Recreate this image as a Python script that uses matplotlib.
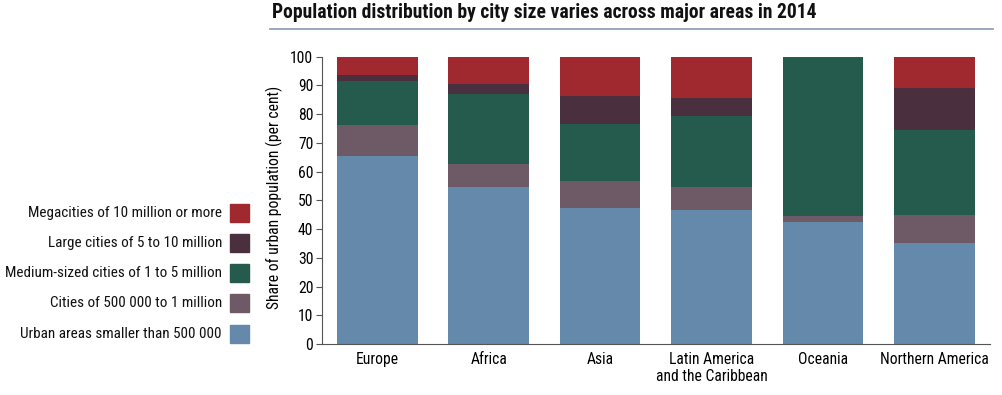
import matplotlib
matplotlib.use("Agg")
import matplotlib.pyplot as plt
import numpy as np
from matplotlib import font_manager as fm
from matplotlib.patches import Rectangle
from matplotlib.lines import Line2D

# ---- data ----
regions = ["Europe", "Africa", "Asia", "Latin America\nand the Caribbean", "Oceania", "Northern America"]
series_names = ["Urban areas smaller than 500 000",
                "Cities of 500 000 to 1 million",
                "Medium-sized cities of 1 to 5 million",
                "Large cities of 5 to 10 million",
                "Megacities of 10 million or more"]
small = [65.4, 54.8, 47.3, 46.6, 42.6, 35.2]
mid500 = [10.8, 7.8, 9.4, 8.2, 1.9, 9.8]
medium = [15.4, 24.5, 19.9, 24.6, 55.2, 29.6]
large = [2.1, 3.5, 9.7, 6.2, 0.0, 14.5]
mega = [6.3, 9.4, 13.7, 14.4, 0.3, 10.9]
yticks = list(range(0, 101, 10))
title = "Population distribution by city size varies across major areas in 2014"
ylabel = "Share of urban population (per cent)"
colors = ["#6589AA", "#6E5A66", "#255B4D", "#4A2F3E", "#A0292F"]

# ---- font choice: prefer a condensed humanist face ----
names = {f.name for f in fm.fontManager.ttflist}
stretch = 'normal'
fam = None
for cand in ['Liberation Sans Narrow', 'Roboto Condensed', 'Open Sans Condensed', 'Noto Sans Condensed']:
    if cand in names:
        fam = cand
        break
if fam is None:
    if any(f.name == 'DejaVu Sans' and str(f.stretch) in ('condensed', 'semi-condensed', '87.5', '75')
           for f in fm.fontManager.ttflist):
        fam, stretch = 'DejaVu Sans', 'condensed'
    elif any(f.name == 'Noto Sans' and str(f.stretch) in ('condensed', 'semi-condensed')
             for f in fm.fontManager.ttflist):
        fam, stretch = 'Noto Sans', 'condensed'
    else:
        fam = 'Roboto' if 'Roboto' in names else 'DejaVu Sans'
plt.rcParams['font.family'] = [fam, 'DejaVu Sans']
plt.rcParams['font.stretch'] = stretch

fig = plt.figure(figsize=(10.02, 3.95), dpi=100)
renderer = fig.canvas.get_renderer()


def fit_size(text, target_px, base=10, weight='normal'):
    t = fig.text(0, 0, text, fontsize=base, fontweight=weight, fontstretch=stretch)
    w = t.get_window_extent(renderer).width
    t.remove()
    return base * target_px / w


fs_title = fit_size(title, 545, 14, 'bold')
fs_leg = min(fit_size(series_names[2], 215), 11.5)
fs_tick = min(fit_size("Northern America", 108), 11.5)
fs_ylab = min(fit_size(ylabel, 222), 11.5)

ax = fig.add_axes([0.321, 0.129, 0.667, 0.7275])
x = np.arange(len(regions))
bottom = np.zeros(len(regions))
for vals, c in zip([small, mid500, medium, large, mega], colors):
    ax.bar(x, vals, bottom=bottom, width=0.725, color=c, edgecolor='none')
    bottom += np.array(vals)

ax.set_xlim(-0.5, 5.5)
ax.set_ylim(0, 100)
ax.set_yticks(yticks)
ax.set_xticks(x)
ax.set_xticklabels(regions, fontsize=fs_tick, linespacing=1.15)
ax.tick_params(axis='x', length=0, pad=6)
ax.tick_params(axis='y', length=4, width=0.8, direction='out', labelsize=fs_tick, pad=2, color='#555555')
for s in ['top', 'right']:
    ax.spines[s].set_visible(False)
ax.spines['left'].set_color('#555555')
ax.spines['bottom'].set_color('#555555')
ax.set_ylabel(ylabel, fontsize=fs_ylab, labelpad=2)
ax.yaxis.set_label_coords(-0.058, 0.51)

fig.text(0.2715, 1 - 13 / 395, title, fontsize=fs_title, fontweight='bold', ha='left', va='center',
         color='#111111')
fig.add_artist(Line2D([0.269, 0.991], [1 - 28.5 / 395, 1 - 28.5 / 395], transform=fig.transFigure,
                      color='#8FA3B8', lw=1.3))

# legend
ys = [213, 243, 273, 303, 334]
for name, c, yp in zip(series_names[::-1], colors[::-1], ys):
    yf = 1 - yp / 395
    fig.add_artist(Rectangle((230 / 1002, yf - 9 / 395), 19 / 1002, 18 / 395,
                             transform=fig.transFigure, color=c))
    fig.text(222 / 1002, yf, name, fontsize=fs_leg, ha='right', va='center', color='#111111')

fig.savefig("out.png", dpi=100)
